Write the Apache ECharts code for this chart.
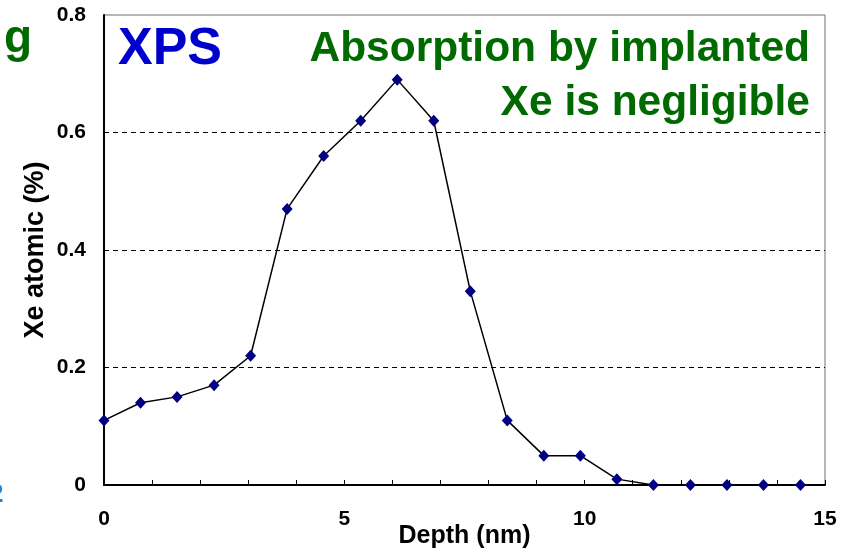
<!DOCTYPE html>
<html>
<head>
<meta charset="utf-8">
<script src="https://cdn.jsdelivr.net/npm/echarts@6/dist/echarts.min.js"></script>
<style>
  html, body { margin: 0; padding: 0; background: #ffffff; }
  #chart { width: 856px; height: 552px; }
</style>
</head>
<body>
<div id="chart"></div>
<script>
// Xe depth profile measured by XPS
const depthNm = [0, 0.76, 1.52, 2.29, 3.05, 3.81, 4.57, 5.34, 6.1, 6.86,
                 7.62, 8.39, 9.15, 9.91, 10.67, 11.43, 12.2, 12.96, 13.72, 14.49];
const xeAtomicPct = [0.11, 0.14, 0.15, 0.17, 0.22, 0.47, 0.56, 0.62, 0.69, 0.62,
                     0.33, 0.11, 0.05, 0.05, 0.01, 0, 0, 0, 0, 0];
const xTickLabels = [0, 5, 10, 15];
const yTickLabels = [0, 0.2, 0.4, 0.6, 0.8];

const FONT = 'Liberation Sans, Arial, sans-serif';
const GREEN = '#006a00';

const points = depthNm.map((d, i) => [d, xeAtomicPct[i]]);

const chart = echarts.init(document.getElementById('chart'), null, { renderer: 'canvas' });

chart.setOption({
  animation: false,
  backgroundColor: '#ffffff',
  grid: {
    left: 104, right: 31, top: 15, bottom: 67,
    containLabel: false, outerBoundsMode: 'none',
    show: true, borderColor: '#6e6e6e', borderWidth: 1, backgroundColor: 'transparent'
  },
  xAxis: {
    type: 'value', min: 0, max: 15, interval: 1,
    name: 'Depth (nm)', nameLocation: 'middle', nameGap: 39, nameMoveOverlap: false,
    nameTextStyle: { fontFamily: FONT, fontWeight: 'bold', fontSize: 25, color: '#000' },
    axisLine: { show: true, onZero: false, lineStyle: { color: '#000', width: 2 } },
    axisTick: { show: true, inside: true, length: 5, lineStyle: { color: '#000', width: 1 } },
    axisLabel: {
      margin: 24, fontFamily: FONT, fontWeight: 'bold', fontSize: 21, color: '#000',
      formatter: v => (xTickLabels.indexOf(v) >= 0 ? String(v) : '')
    },
    splitLine: { show: false }
  },
  yAxis: {
    type: 'value', min: 0, max: 0.8, interval: 0.2,
    name: 'Xe atomic (%)', nameLocation: 'middle', nameGap: 55, nameRotate: 90, nameMoveOverlap: false,
    nameTextStyle: { fontFamily: FONT, fontWeight: 'bold', fontSize: 27, color: '#000' },
    axisLine: { show: true, onZero: false, lineStyle: { color: '#000', width: 2 } },
    axisTick: { show: false },
    axisLabel: {
      margin: 18, fontFamily: FONT, fontWeight: 'bold', fontSize: 21, color: '#000',
      formatter: v => {
        const t = yTickLabels.find(y => Math.abs(y - v) < 1e-9);
        return t === undefined ? '' : (t === 0 ? '0' : t.toFixed(1));
      }
    },
    splitLine: {
      show: true, showMinLine: false, showMaxLine: false,
      lineStyle: { color: '#000', width: 1, type: [5, 4] }
    }
  },
  series: [{
    type: 'line',
    data: points,
    symbol: 'diamond',
    symbolSize: [11, 12],
    itemStyle: { color: '#000080' },
    lineStyle: { color: '#000', width: 1.5 },
    z: 5
  }],
  graphic: [
    {
      type: 'text', left: 118, top: 24, z: 10,
      style: { text: 'XPS', fontFamily: FONT, fontWeight: 'bold', fontSize: 52, fill: '#0000cc' }
    },
    {
      type: 'text', right: 46, top: 22, z: 10,
      style: {
        text: 'Absorption by implanted\nXe is negligible', align: 'right', textAlign: 'right',
        fontFamily: FONT, fontWeight: 'bold', fontSize: 42.5, lineHeight: 54, fill: GREEN
      }
    },
    {
      type: 'text', left: 4, top: 16, z: 10,
      style: { text: 'g', fontFamily: FONT, fontWeight: 'bold', fontSize: 46, fill: GREEN }
    },
    {
      type: 'text', left: -11, top: 482, z: 10,
      style: { text: '2', fontFamily: FONT, fontWeight: 'bold', fontSize: 26, fill: '#1a88d0' }
    }
  ]
});
</script>
</body>
</html>
